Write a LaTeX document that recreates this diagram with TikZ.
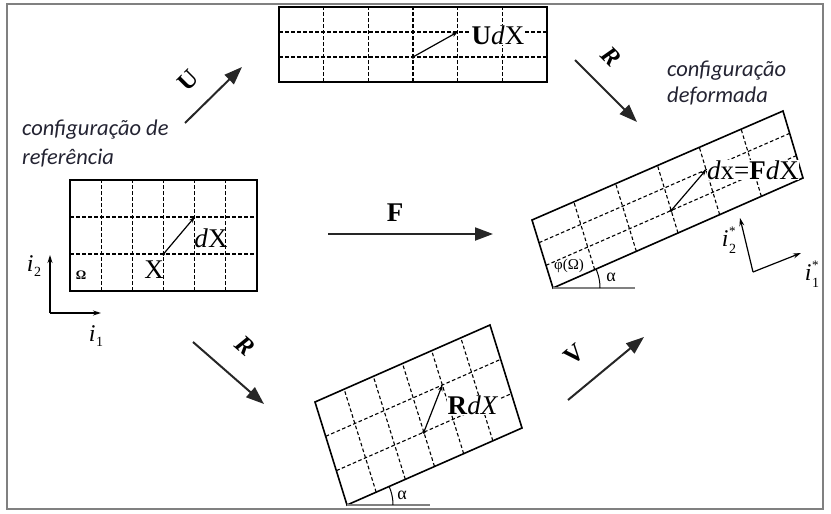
\documentclass[tikz,border=0pt]{standalone}
\usepackage{fontspec}
\setmainfont{Liberation Serif}
\newfontfamily\capfont{Carlito}
\usetikzlibrary{arrows.meta,calc}
\definecolor{captcol}{RGB}{35,35,50}
\definecolor{framegray}{RGB}{128,128,128}
\newcommand\gridbox[1]{%
  \foreach \i in {1,...,5}
    \draw[gridline] ($(#1-bl)!\i/6!(#1-br)$) -- ($(#1-tl)!\i/6!(#1-tr)$);
  \foreach \j in {1,2}
    \draw[gridline] ($(#1-bl)!\j/3!(#1-tl)$) -- ($(#1-br)!\j/3!(#1-tr)$);
  \draw[gridframe] (#1-bl) -- (#1-br) -- (#1-tr) -- (#1-tl) -- cycle;
  \coordinate (#1-l1) at ($(#1-bl)!1/3!(#1-tl)$);
  \coordinate (#1-r1) at ($(#1-br)!1/3!(#1-tr)$);
  \coordinate (#1-l2) at ($(#1-bl)!2/3!(#1-tl)$);
  \coordinate (#1-r2) at ($(#1-br)!2/3!(#1-tr)$);
  \coordinate (#1-s) at ($(#1-l1)!3/6!(#1-r1)$);
  \coordinate (#1-e) at ($(#1-l2)!4/6!(#1-r2)$);
  \fill (#1-s) circle[radius=1.8];
  \draw[vecarrow] (#1-s) -- (#1-e);
}
\newcommand\subidx[1]{\textit{i}\kern0.5pt\raisebox{-0.5ex}{\fontsize{14}{14}\selectfont #1}}
\newcommand\staridx[1]{\textit{i}\kern0.5pt\makebox[0pt][l]{\raisebox{1.05ex}{\fontsize{13}{13}\selectfont *}}\raisebox{-0.6ex}{\fontsize{14}{14}\selectfont #1}}
\begin{document}
\begin{tikzpicture}[x=1pt,y=-1pt,
  gridframe/.style={draw=black, line width=1.6pt, line join=miter},
  gridline/.style={draw=black, line width=1.1pt, dash pattern=on 3.6pt off 2.4pt},
  bigarrow/.style={draw=black!85, line width=2pt, -{Triangle[length=18pt,width=13pt]}},
  vecarrow/.style={draw=black, line width=1.2pt, -{Stealth[length=6pt,width=4.5pt]}},
  axisarrow/.style={draw=black, line width=1.2pt, -{Stealth[length=8pt,width=5pt]}},
  lbl/.style={inner sep=0.5pt, fill=white, font=\fontsize{27}{30}\selectfont},
  oplbl/.style={inner sep=0pt, font=\fontsize{25}{28}\selectfont\bfseries},
  axlbl/.style={inner sep=0pt, font=\fontsize{24}{26}\selectfont},
  captxt/.style={inner sep=0pt, anchor=base west, text=captcol, font=\capfont\itshape\fontsize{22.5}{24}\selectfont},
  groundline/.style={draw=framegray, line width=1.5pt},
  anglearc/.style={draw=black, line width=1pt},
  smalllbl/.style={inner sep=0pt, font=\fontsize{15}{16}\selectfont},
]
\useasboundingbox (0,0) rectangle (831,514);
\draw[draw=framegray, line width=2pt] (7,4) rectangle (823,509);

% reference configuration
\coordinate (a-bl) at (70,291);
\coordinate (a-br) at (257,291);
\coordinate (a-tl) at (70,180);
\coordinate (a-tr) at (257,180);
\gridbox{a}
\node[lbl, fill=none] (adx) at (211,238) {\textit{d}X};
\node[lbl, fill=none] (ax) at (154,270) {X};
\node[smalllbl, font=\fontsize{13}{14}\selectfont\bfseries] (aom) at (81,275) {Ω};

% stretched configuration (top)
\coordinate (b-bl) at (279,82);
\coordinate (b-br) at (547,82);
\coordinate (b-tl) at (279,7);
\coordinate (b-tr) at (547,7);
\gridbox{b}
\node[lbl] (budx) at (498,35) {\textbf{U}\textit{d}X};

% deformed configuration
\coordinate (d-bl) at (553,288);
\coordinate (d-br) at (803,178);
\coordinate (d-tl) at (532,220);
\coordinate (d-tr) at (783,111);
\gridbox{d}
\node[lbl] (ddx) at (753,170) {\textit{d}x=\textbf{F}\textit{d}X};
\node[smalllbl] (dphi) at (569,266) {φ(Ω)};
\draw[groundline] (d-bl) -- ++(82,0) coordinate (d-g);
\draw[anglearc] plot[domain=0:23.75, samples=12] ({553+47*cos(\x)}, {288-47*sin(\x)});
\node[smalllbl, font=\fontsize{18}{18}\selectfont] (dalpha) at (611,277) {α};

% rotated configuration (bottom)
\coordinate (c-bl) at (347,505);
\coordinate (c-br) at (522,428);
\coordinate (c-tl) at (315,402);
\coordinate (c-tr) at (490,325);
\gridbox{c}
\node[lbl] (crdx) at (473,405) {\textbf{R}\textit{dX}};
\draw[groundline] (c-bl) -- ++(83,0) coordinate (c-g);
\draw[anglearc] plot[domain=0:23.75, samples=12] ({347+46*cos(\x)}, {505-46*sin(\x)});
\node[smalllbl, font=\fontsize{18}{18}\selectfont] (calpha) at (402,495) {α};

% axes
\coordinate (o1) at (50,313);
\coordinate (o1y) at (50,255);
\coordinate (o1x) at (101,313);
\draw[axisarrow] (o1) -- (o1y);
\draw[axisarrow] (o1) -- (o1x);
\node[axlbl] (i2) at (34,266) {\subidx{2}};
\node[axlbl] (i1) at (96,336) {\subidx{1}};

\coordinate (o2) at (753,272);
\coordinate (o2y) at (740,218);
\coordinate (o2x) at (801,253);
\draw[axisarrow] (o2) -- (o2y);
\draw[axisarrow] (o2) -- (o2x);
\node[axlbl] (i2s) at (729,240) {\staridx{2}};
\node[axlbl] (i1s) at (812,274) {\staridx{1}};

% operator arrows
\coordinate (uA) at (185,123); \coordinate (uB) at (242,67);
\draw[bigarrow] (uA) -- (uB);
\node[oplbl, rotate=45] (lu) at (188,80) {U};

\coordinate (rtA) at (575,60); \coordinate (rtB) at (637,122);
\draw[bigarrow] (rtA) -- (rtB);
\node[oplbl, rotate=-45] (lrt) at (611,57) {\textit{R}};

\coordinate (fA) at (328,234); \coordinate (fB) at (493,234);
\draw[bigarrow] (fA) -- (fB);
\node[oplbl, font=\fontsize{27}{30}\selectfont\bfseries] (lf) at (395,213) {F};

\coordinate (rbA) at (193,342); \coordinate (rbB) at (264,404);
\draw[bigarrow] (rbA) -- (rbB);
\node[oplbl, rotate=-41] (lrb) at (245,346) {\textit{R}};

\coordinate (vA) at (568,400); \coordinate (vB) at (644,337);
\draw[bigarrow] (vA) -- (vB);
\node[oplbl, rotate=40] (lv) at (574,355) {V};

% captions
\node[captxt] (cap1) at (22,135) {configuração de};
\node[captxt] (cap2) at (22,164) {referência};
\node[captxt] (cap3) at (667,76) {configuração};
\node[captxt] (cap4) at (667,102) {deformada};
\end{tikzpicture}
\end{document}
